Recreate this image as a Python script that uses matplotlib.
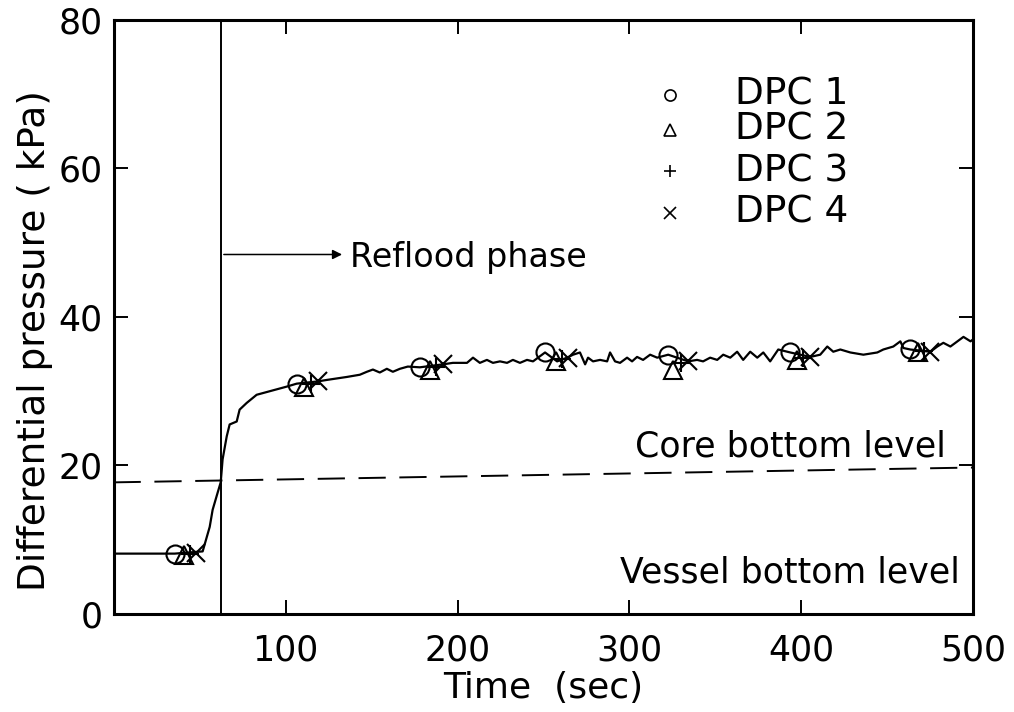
import matplotlib
matplotlib.use("Agg")
import matplotlib.pyplot as plt

# ---------------- data ----------------
time_s = [0, 35.5, 51.8, 55.9, 57.6, 60.5, 62.3, 63.4, 65.8, 67.5, 71.6, 73.3, 77.4, 83.2,
          100.7, 106.5, 118.7, 124.0, 135.6, 143.2, 147.3, 150.8, 154.8, 158.9, 162.4,
          166.5, 171.1, 178.1, 191.5, 197.3, 205.5, 209.0, 213.0, 217.1, 220.6, 224.7,
          228.8, 232.2, 236.3, 240.4, 243.9, 250.9, 257.9, 263.7, 267.2, 271.2, 274.2,
          275.9, 278.8, 282.9, 287.0, 288.7, 291.6, 294.5, 298.6, 301.5, 304.4, 307.9,
          312.0, 316.1, 322.5, 334.1, 339.3, 342.8, 346.9, 351.0, 354.5, 358.6, 362.6,
          366.1, 370.2, 374.3, 377.8, 381.8, 386.5, 393.5, 405.1, 410.9, 415.0, 418.5,
          422.6, 428.4, 436.0, 444.1, 447.6, 453.4, 457.5, 459.3, 463.3, 475.0, 479.0,
          482.5, 486.6, 490.7, 494.2, 498.3, 500]
pressure_kpa = [8.1, 8.1, 8.4, 11.7, 14.0, 16.3, 17.7, 20.8, 23.9, 25.5, 25.9, 27.5, 28.4, 29.5,
                30.6, 31.0, 31.3, 31.5, 31.9, 32.2, 32.6, 32.9, 32.5, 33.0, 32.6,
                33.0, 33.3, 33.2, 33.6, 33.8, 33.8, 34.5, 33.8, 34.2, 33.8, 34.0,
                33.8, 34.2, 33.8, 34.2, 34.0, 35.2, 34.0, 34.5, 34.9, 35.2, 33.6,
                34.5, 34.0, 34.2, 34.0, 35.2, 34.0, 33.8, 34.5, 34.0, 34.6, 34.2,
                34.9, 34.5, 34.9, 34.0, 34.2, 34.0, 34.5, 34.2, 34.9, 34.5, 35.3,
                34.2, 35.3, 34.5, 35.2, 34.0, 35.6, 35.2, 34.6, 34.9, 36.0, 35.3,
                35.6, 35.2, 34.9, 35.2, 35.6, 36.0, 36.7, 35.8, 35.6, 35.3, 36.0,
                36.5, 36.0, 36.7, 37.3, 36.7, 37.0]

# marker positions for each probe
dpc1_t = [35.5, 106.5, 178.0, 251.0, 322.5, 393.5, 463.3]
dpc1_p = [8.1, 31.0, 33.2, 35.2, 34.9, 35.2, 35.6]
dpc2_t = [41.0, 111.0, 184.0, 257.5, 325.5, 397.5, 467.5]
dpc2_p = [7.9, 30.6, 32.9, 34.0, 32.9, 34.2, 35.2]
dpc3_t = [44.5, 115.0, 187.5, 260.5, 330.0, 401.0, 471.0]
dpc3_p = [8.1, 31.0, 33.2, 34.3, 33.8, 34.5, 35.4]
dpc4_t = [48.0, 118.7, 191.5, 264.0, 334.0, 405.0, 475.0]
dpc4_p = [8.2, 31.3, 33.6, 34.5, 34.0, 34.6, 35.3]

series_labels = ["DPC 1", "DPC 2", "DPC 3", "DPC 4"]
series_markers = ["o", "^", "+", "x"]

reflood_start = 62.5
core_level_t = [0, 500]
core_level_p = [17.7, 19.7]

x_ticks = [100, 200, 300, 400, 500]
y_ticks = [0, 20, 40, 60, 80]

# ---------------- figure ----------------
plt.rcParams['font.family'] = ['DejaVu Sans']
fig = plt.figure(figsize=(10.14, 7.12), dpi=100)
ax = fig.add_axes([0.112, 0.138, 0.848, 0.834])

ax.plot(time_s, pressure_kpa, color='black', lw=1.6, zorder=3)

for (tt, pp), m in zip([(dpc1_t, dpc1_p), (dpc2_t, dpc2_p), (dpc3_t, dpc3_p), (dpc4_t, dpc4_p)],
                       series_markers):
    ax.plot(tt, pp, linestyle='none', marker=m, markersize=13, markerfacecolor='none',
            markeredgecolor='black', markeredgewidth=1.5, zorder=4)

ax.axvline(reflood_start, color='black', lw=1.4, zorder=2)
ax.plot(core_level_t, core_level_p, color='black', lw=1.4, dashes=(14, 7), zorder=2)

ax.annotate('', xy=(134.5, 48.4), xytext=(reflood_start, 48.4),
            arrowprops=dict(arrowstyle='-|>', color='black', lw=1.1, mutation_scale=14))
ax.text(137.5, 48.0, 'Reflood phase', fontsize=24, va='center', ha='left')

ax.text(484, 20.3, 'Core bottom level', fontsize=25, va='bottom', ha='right')
ax.text(492, 5.5, 'Vessel bottom level', fontsize=25, va='center', ha='right')

# legend drawn as text
leg_y = [69.9, 65.2, 59.6, 54.0]
for lab, m, yy in zip(series_labels, series_markers, leg_y):
    ax.plot([323.6], [yy], linestyle='none', marker=m, markersize=8, markerfacecolor='none',
            markeredgecolor='black', markeredgewidth=1.2)
    ax.text(361.5, yy, lab, fontsize=27, va='center', ha='left')

ax.set_xlim(0, 500)
ax.set_ylim(0, 80)
ax.set_xticks(x_ticks)
ax.set_yticks(y_ticks)
ax.tick_params(direction='in', length=10, width=1.4, labelsize=25, pad=8,
               top=True, right=True)
ax.tick_params(axis='x', pad=14)
for s in ax.spines.values():
    s.set_linewidth(2.2)

ax.set_xlabel('Time  (sec)', fontsize=26, labelpad=3)
ax.set_ylabel('Differential pressure ( kPa)', fontsize=27)
ax.yaxis.set_label_coords(-0.07, 0.46)

fig.savefig('out.png', dpi=100)
